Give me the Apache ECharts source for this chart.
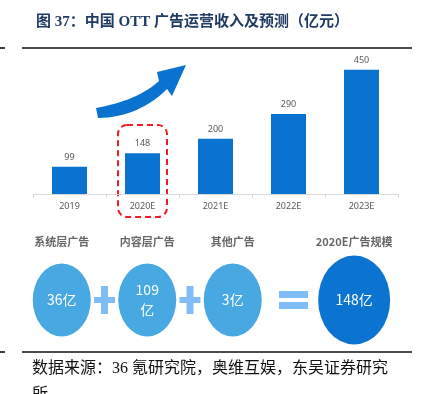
<!DOCTYPE html>
<html>
<head>
<meta charset="utf-8">
<script src="https://cdn.jsdelivr.net/npm/echarts@6/dist/echarts.min.js"></script>
<style>
html,body{margin:0;padding:0;background:#fff;}
#main{width:425px;height:394px;}
</style>
</head>
<body>
<div id="main"></div>
<script>
// ---- data ----
const titleText = '图 37：中国 OTT 广告运营收入及预测（亿元）';
const sourceText = '数据来源：36 氪研究院，奥维互娱，东吴证券研究所';
const years = ['2019', '2020E', '2021E', '2022E', '2023E'];
const revenue = [99, 148, 200, 290, 450];
const highlightYear = '2020E';
const partNames = ['系统层广告', '内容层广告', '其他广告', '2020E广告规模'];
const partValues = [36, 109, 3, 148];
const operators = ['+', '+', '='];

// ---- layout (not data) ----
const slotX = [0, 1, 2, 3.42];
const circleY = 0.3, nameY = 0.88;
const ellipse = 'path://M0,50A50,50,0,1,1,100,50A50,50,0,1,1,0,50Z';
const plusPath = 'path://M7,0H14V11H21V17H14V28H7V17H0V11H7Z';
const eqPath = 'path://M0,0H29V7H0ZM0,11H29V18H0Z';
const lightBlue = '#48a8e2', darkBlue = '#0a74d0', opColor = '#80bdf7';

// decorative arrow outline (cubic bezier sampling)
function bez(p0, p1, p2, p3, n) {
  const out = [];
  for (let i = 0; i <= n; i++) {
    const t = i / n, u = 1 - t;
    out.push([
      u*u*u*p0[0] + 3*u*u*t*p1[0] + 3*u*t*t*p2[0] + t*t*t*p3[0],
      u*u*u*p0[1] + 3*u*u*t*p1[1] + 3*u*t*t*p2[1] + t*t*t*p3[1]
    ]);
  }
  return out;
}
const arrowPts = [].concat(
  bez([96,108],[116,104],[140,98],[159,81], 16),
  [[157,72],[186,65],[172,96]],
  bez([167,89],[150,106],[126,118],[98,118], 16)
);

const chart = echarts.init(document.getElementById('main'));

const circleData = partValues.map((v, i) => {
  const last = i === partValues.length - 1;
  return {
    value: [slotX[i], circleY, v],
    symbolSize: last ? [72, 89] : [58, 73],
    itemStyle: { color: last ? darkBlue : lightBlue, opacity: 1 },
    label: v === 109 ? { formatter: v + '\n亿' } : undefined
  };
});
const nameData = partNames.map((n, i) => ({ value: [slotX[i], nameY], name: n }));
const opData = operators.map((o, i) => {
  const x = (slotX[i] + slotX[i + 1]) / 2;
  return {
    value: [x, circleY],
    symbol: o === '+' ? plusPath : eqPath,
    symbolSize: o === '+' ? [21, 28] : [29, 18]
  };
});

const option = {
  animation: false,
  title: {
    text: titleText,
    left: 31, top: 10,
    textStyle: { fontSize: 15, fontWeight: 'bold', color: '#1f3b63',
      fontFamily: '"Liberation Serif", "Noto Sans CJK SC", serif' }
  },
  grid: [
    { left: 33, right: 27, top: 56, height: 138 },
    { left: 19, width: 342, top: 230, height: 100 }
  ],
  xAxis: [
    {
      type: 'category', data: years, gridIndex: 0,
      axisLine: { lineStyle: { color: '#d9d9d9', width: 1 } },
      axisTick: { show: true, length: 4, lineStyle: { color: '#d9d9d9' } },
      axisLabel: { color: '#595959', fontSize: 9, margin: 8, fontFamily: '"Noto Sans", sans-serif' }
    },
    { type: 'value', gridIndex: 1, min: -0.5, max: 3.5, show: false }
  ],
  yAxis: [
    { type: 'value', gridIndex: 0, min: 0, max: 500, show: false },
    { type: 'value', gridIndex: 1, min: 0, max: 1, show: false }
  ],
  series: [
    {
      type: 'bar', data: revenue, xAxisIndex: 0, yAxisIndex: 0,
      barWidth: 35,
      itemStyle: { color: '#0a73cf' },
      label: { show: true, position: 'top', distance: 5, color: '#595959', fontSize: 9,
        fontFamily: '"Noto Sans", sans-serif' }
    },
    {
      type: 'scatter', xAxisIndex: 1, yAxisIndex: 1, symbol: ellipse,
      data: circleData, z: 3, silent: true,
      itemStyle: { opacity: 1 },
      label: { show: true, position: 'inside', color: '#fff', fontSize: 14, lineHeight: 20,
        fontFamily: '"Noto Sans CJK SC", sans-serif',
        formatter: p => p.value[2] + '亿' }
    },
    {
      type: 'scatter', xAxisIndex: 1, yAxisIndex: 1, symbolSize: 0,
      data: nameData, silent: true,
      label: { show: true, position: 'inside', color: '#404040', fontSize: 11, fontWeight: 'bold',
        fontFamily: '"Noto Sans CJK SC", sans-serif', formatter: p => p.name }
    },
    {
      type: 'scatter', xAxisIndex: 1, yAxisIndex: 1,
      data: opData, itemStyle: { color: opColor, opacity: 1 }, silent: true
    }
  ]
};
chart.setOption(option);

// decorations
const hx = chart.convertToPixel({ xAxisIndex: 0 }, highlightYear);
chart.setOption({
  graphic: [
    { type: 'line', shape: { x1: 22, y1: 48, x2: 412, y2: 48 }, style: { stroke: '#111', lineWidth: 1.6 } },
    { type: 'line', shape: { x1: 0, y1: 48, x2: 5, y2: 48 }, style: { stroke: '#111', lineWidth: 1.6 } },
    { type: 'line', shape: { x1: 22, y1: 352, x2: 412, y2: 352 }, style: { stroke: '#111', lineWidth: 1.6 } },
    { type: 'line', shape: { x1: 0, y1: 352, x2: 5, y2: 352 }, style: { stroke: '#111', lineWidth: 1.6 } },
    { type: 'rect', shape: { x: hx - 24.5, y: 125, width: 49, height: 92, r: 9 },
      style: { fill: 'none', stroke: '#ee1c25', lineWidth: 2, lineDash: [6, 4] } },
    { type: 'polygon', shape: { points: arrowPts }, style: { fill: '#0a73cf' } },
    { type: 'text', left: 32, top: 356,
      style: { text: sourceText, width: 362, overflow: 'break', lineHeight: 26,
        fill: '#111', font: '16px "Liberation Serif", "Noto Sans CJK SC", serif' } }
  ]
});
</script>
</body>
</html>
